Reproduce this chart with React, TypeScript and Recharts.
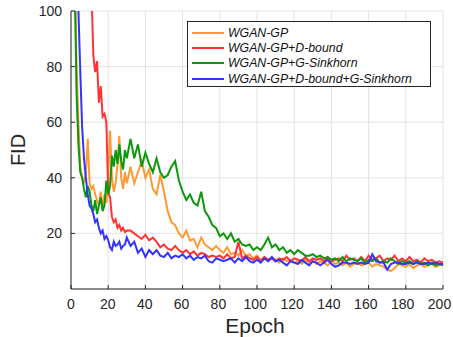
import { LineChart, Line, XAxis, YAxis, CartesianGrid, Legend, Label } from "recharts"

// epochs: every epoch up to 30, then every second epoch
const EPOCHS = [
  1, 2, 3, 4, 5, 6, 7, 8, 9, 10, 11, 12, 13, 14, 15, 16, 17, 18, 19, 20, 21, 22, 23, 24, 25, 26, 27, 28, 29, 30,
  32, 34, 36, 38, 40, 42, 44, 46, 48, 50, 52, 54, 56, 58, 60, 62, 64, 66, 68, 70,
  72, 74, 76, 78, 80, 82, 84, 86, 88, 90, 92, 94, 96, 98, 100, 102, 104, 106, 108, 110,
  112, 114, 116, 118, 120, 122, 124, 126, 128, 130, 132, 134, 136, 138, 140, 142, 144, 146, 148, 150,
  152, 154, 156, 158, 160, 162, 164, 166, 168, 170, 172, 174, 176, 178, 180, 182, 184, 186, 188, 190,
  192, 194, 196, 198, 200,
]

const WGAN_GP = [
  160, 115, 80, 60, 44, 40, 38, 42, 54, 38, 36, 37, 34, 32, 30, 35, 29, 34, 31, 40,
  57, 40, 35, 38, 45, 55, 40, 36, 42, 38,
  44, 38, 42, 46, 40, 43, 36, 34, 41, 35,
  28, 24, 23, 20, 18.5, 21, 17.5, 18, 15, 18.5,
  16, 15, 14, 15.5, 14, 13, 15, 12.5, 13, 12,
  14, 12, 12.5, 11, 12, 10.5, 11.5, 10, 11, 10.5,
  9.5, 11, 10, 10.5, 9.5, 10, 9, 10.5, 9.5, 10,
  9, 10, 9.5, 8.5, 10, 9, 9.5, 8.5, 9.5, 8,
  9, 9.5, 8.5, 9, 9.5, 8, 9, 8.5, 8, 7,
  6.5, 7.5, 9, 8.5, 8, 9, 7.5, 8.5, 9, 8,
  8.5, 9, 8, 8.5, 9,
]

const D_BOUND = [
  300, 270, 240, 210, 190, 170, 155, 140, 128, 118, 108, 84, 78, 82, 67, 73, 62, 63, 60, 35,
  33, 26, 24, 25, 22, 23, 21, 22, 20.5, 21,
  21, 20, 19, 18, 19.5, 17.5, 18.5, 17, 15, 16,
  14.5, 14, 15.5, 14, 13, 14, 12.5, 13.5, 12, 13,
  12.5, 11.5, 12, 11.5, 12, 11, 12.5, 11, 11.5, 17,
  11, 12, 11, 10.5, 11.5, 10, 11.5, 10.5, 11, 10,
  11, 10.5, 11.5, 10, 11, 10.5, 10, 11.5, 10, 11,
  10.5, 11, 10, 11.5, 10, 10.5, 11, 10, 12, 10.5,
  11, 10, 11.5, 10, 12, 10.5, 11, 12, 10, 11,
  10.5, 12, 10, 11, 10, 11.5, 10, 10.5, 9.5, 11,
  10, 10.5, 9.5, 10, 9.5,
]

const G_SINKHORN = [
  200, 110, 70, 52, 42, 40, 36, 33, 37, 35, 30, 28, 32, 27, 30, 33, 28, 30, 39, 34,
  37, 48, 44, 50, 45, 52, 46, 43, 50, 47,
  54, 47, 52, 44, 49, 45, 42, 47, 42, 40,
  41, 44, 46, 39, 35, 32, 34, 31, 30, 35,
  28, 26, 23, 22, 19, 20, 18, 20, 17, 18,
  16, 15.5, 16, 14, 15, 14, 16, 18.5, 15, 16,
  14, 15, 13, 14, 12.5, 14, 13, 12, 12, 12.5,
  11.5, 12, 11, 11.5, 10.5, 11, 10, 11.5, 10, 11,
  10.5, 10, 11, 9.5, 10.5, 10, 11, 9.5, 10, 9.5,
  11, 10, 9, 10, 9.5, 10, 9, 10, 9, 9.5,
  8.5, 9.5, 8.5, 9, 8.5,
]

const BOTH = [
  250, 180, 130, 100, 78, 58, 47, 40, 34, 30, 29, 27, 24, 25, 22, 20, 21, 18, 19, 17.5,
  15, 14, 17, 15.5, 16, 17, 14.5, 15.5, 16, 18.5,
  15.5, 17, 13, 14.5, 11.5, 14, 12.5, 14, 12, 11.5,
  13, 11, 12, 11.5, 12.5, 11, 12, 10.5, 11.5, 11,
  12, 10, 9.5, 11, 10.5, 10, 10.5, 11, 9.5, 11,
  10, 11.5, 10, 9.5, 10.5, 9.5, 11, 10, 11.5, 10,
  10.5, 9.5, 8.5, 10, 9.5, 9, 10.5, 9.5, 8.5, 10,
  9.5, 8.5, 9.5, 10.5, 9, 8, 8.5, 9.5, 9.5, 9,
  9.5, 9, 9.5, 9, 9.5, 12.5, 10, 9.5, 9.5, 7,
  9, 9.5, 9.5, 9, 9, 9.5, 9, 9.5, 9, 9,
  9.5, 9, 9.5, 9, 9,
]

const X_TICKS = [0, 20, 40, 60, 80, 100, 120, 140, 160, 180, 200]
const Y_TICKS = [20, 40, 60, 80, 100]

const SERIES = [
  { key: "gp", name: "WGAN-GP", color: "#ff9933", values: WGAN_GP },
  { key: "db", name: "WGAN-GP+D-bound", color: "#ff3333", values: D_BOUND },
  { key: "gs", name: "WGAN-GP+G-Sinkhorn", color: "#0b990b", values: G_SINKHORN },
  { key: "both", name: "WGAN-GP+D-bound+G-Sinkhorn", color: "#3333ff", values: BOTH },
]

const data = EPOCHS.map((epoch, i) => {
  const row: any = { epoch }
  SERIES.forEach((s) => {
    row[s.key] = s.values[i]
  })
  return row
})

const FONT = "'Liberation Sans', Arial, Helvetica, sans-serif"
const AXIS = "#262626"
const TICK = 4

const BottomTick = (props: any) => {
  const { x, y, payload } = props
  const ay = y - 10
  // labels in the original sit a little left of their ticks towards the right end
  const shift = -payload.value * 0.0175
  return (
    <g>
      <line x1={x} y1={ay} x2={x} y2={ay - TICK} stroke={AXIS} />
      <text x={x + shift} y={y} dy="0.71em" textAnchor="middle" fontSize={14} fill={AXIS} fontFamily={FONT}>
        {payload.value}
      </text>
    </g>
  )
}

const LeftTick = (props: any) => {
  const { x, y, payload } = props
  const ax = x + 9
  return (
    <g>
      <line x1={ax} y1={y} x2={ax + TICK} y2={y} stroke={AXIS} />
      <text x={x} y={y} dy="0.355em" textAnchor="end" fontSize={14} fill={AXIS} fontFamily={FONT}>
        {payload.value}
      </text>
    </g>
  )
}

const TopTick = (props: any) => {
  const { x, y } = props
  return <line x1={x} y1={y} x2={x} y2={y + TICK} stroke={AXIS} />
}

const RightTick = (props: any) => {
  const { x, y } = props
  return <line x1={x} y1={y} x2={x - TICK} y2={y} stroke={AXIS} />
}

const FidLabel = (props: any) => {
  const { viewBox } = props
  const cx = 25
  const cy = viewBox.y + viewBox.height / 2
  return (
    <text x={cx} y={cy} transform={`rotate(-90 ${cx} ${cy})`} textAnchor="middle" fontSize={20} fill={AXIS} fontFamily={FONT}>
      FID
    </text>
  )
}

const EpochLabel = (props: any) => {
  const { viewBox } = props
  const cx = viewBox.x + viewBox.width / 2 - 2
  return (
    <text x={cx} y={333} textAnchor="middle" fontSize={21} fill={AXIS} fontFamily={FONT}>
      Epoch
    </text>
  )
}

const LegendBox = () => (
  <div
    style={{
      width: 244,
      height: 66,
      boxSizing: "border-box",
      border: `1px solid ${AXIS}`,
      background: "#fff",
      padding: "3px 0 0 4px",
      fontFamily: FONT,
      fontStyle: "italic",
      fontSize: 12.3,
      color: "#111",
    }}
  >
    {SERIES.map((s) => (
      <div key={s.key} style={{ display: "flex", alignItems: "center", height: 15.4 }}>
        <svg width={32} height={6} style={{ marginRight: 4 }}>
          <line x1={0} y1={3} x2={32} y2={3} stroke={s.color} strokeWidth={2} />
        </svg>
        <span style={{ whiteSpace: "nowrap" }}>{s.name}</span>
      </div>
    ))}
  </div>
)

export default function App() {
  return (
    <div style={{ position: "absolute", left: 0, top: 0, background: "#fff" }}>
      <LineChart width={453} height={337} data={data} margin={{ top: 11, right: 10, left: 0, bottom: 0 }}>
        <CartesianGrid stroke="#e3e3e3" strokeWidth={1} />
        <XAxis
          dataKey="epoch"
          type="number"
          domain={[0, 200]}
          ticks={X_TICKS}
          interval={0}
          height={48}
          tickSize={0}
          tickMargin={10}
          tick={<BottomTick />}
          tickLine={false}
          axisLine={{ stroke: AXIS }}
        >
          <Label content={<EpochLabel />} />
        </XAxis>
        <XAxis
          xAxisId="top"
          orientation="top"
          dataKey="epoch"
          type="number"
          domain={[0, 200]}
          ticks={X_TICKS}
          interval={0}
          height={0}
          tickSize={0}
          tickMargin={0}
          tick={<TopTick />}
          tickLine={false}
          axisLine={{ stroke: AXIS }}
        />
        <YAxis
          type="number"
          domain={[0, 100]}
          ticks={Y_TICKS}
          interval={0}
          allowDataOverflow
          width={71}
          tickSize={0}
          tickMargin={9}
          tick={<LeftTick />}
          tickLine={false}
          axisLine={{ stroke: AXIS }}
        >
          <Label content={<FidLabel />} />
        </YAxis>
        <YAxis
          yAxisId="right"
          orientation="right"
          type="number"
          domain={[0, 100]}
          ticks={Y_TICKS}
          interval={0}
          allowDataOverflow
          width={0}
          tickSize={0}
          tickMargin={0}
          tick={<RightTick />}
          tickLine={false}
          axisLine={{ stroke: AXIS }}
        />
        {SERIES.map((s) => (
          <Line
            key={s.key}
            dataKey={s.key}
            name={s.name}
            stroke={s.color}
            strokeWidth={2}
            dot={false}
            activeDot={false}
            type="linear"
            isAnimationActive={false}
          />
        ))}
        <Legend
          layout="horizontal"
          verticalAlign="middle"
          align="center"
          content={<LegendBox />}
          wrapperStyle={{ position: "absolute", left: 187, top: 21, width: 244, height: 66 }}
        />
      </LineChart>
    </div>
  )
}
